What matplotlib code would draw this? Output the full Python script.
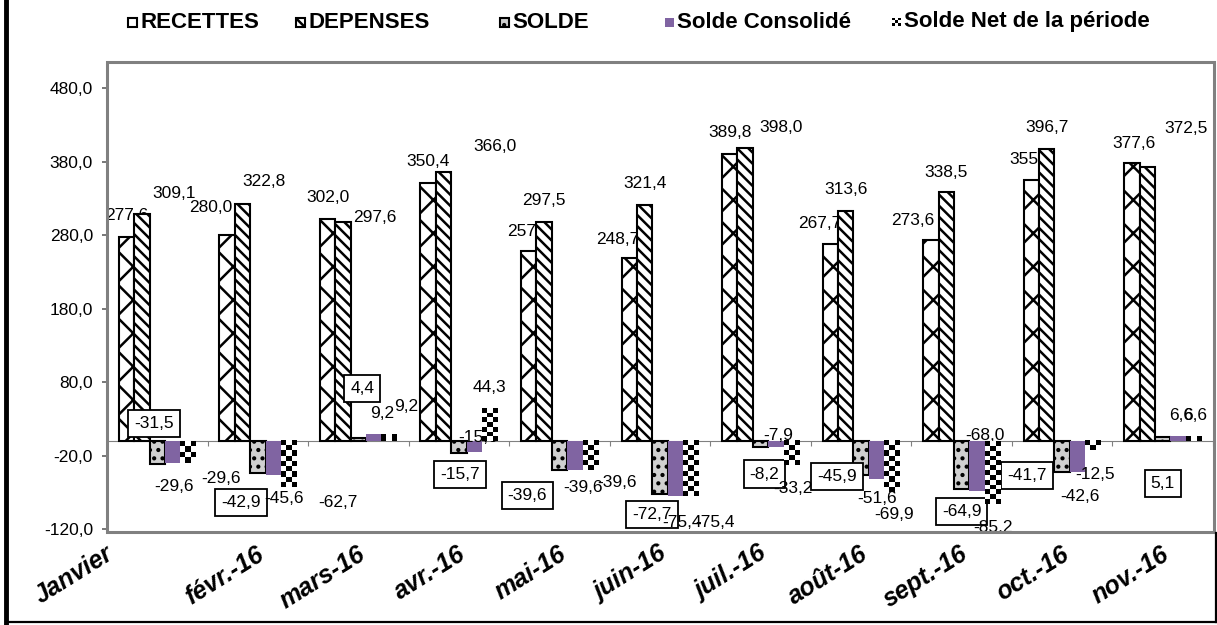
import numpy as np
import matplotlib
matplotlib.use('Agg')
import matplotlib.pyplot as plt
from matplotlib.patches import Rectangle
from matplotlib.lines import Line2D
from matplotlib.transforms import ScaledTranslation, blended_transform_factory

# --- data (millions) ---
months = ['Janvier', 'févr.-16', 'mars-16', 'avr.-16', 'mai-16', 'juin-16',
          'juil.-16', 'août-16', 'sept.-16', 'oct.-16', 'nov.-16']
recettes = [277.6, 280.0, 302.0, 350.4, 257.9, 248.7, 389.8, 267.7, 273.6, 355.0, 377.6]
depenses = [309.1, 322.8, 297.6, 366.0, 297.5, 321.4, 398.0, 313.6, 338.5, 396.7, 372.5]
solde = [-31.5, -42.9, 4.4, -15.7, -39.6, -72.7, -8.2, -45.9, -64.9, -41.7, 5.1]
solde_conso = [-29.6, -45.6, 9.2, -15.6, -39.6, -75.4, -7.9, -51.6, -68.0, -42.6, 6.6]
solde_net = [-29.6, -62.7, 9.2, 44.3, -39.6, -75.4, -33.2, -69.9, -85.2, -12.5, 6.6]
series_names = ['RECETTES', 'DEPENSES', 'SOLDE', 'Solde Consolidé', 'Solde Net de la période']
y_ticks = [-120, -20, 80, 180, 280, 380, 480]

# label offsets from the bar end, in pixels (dx right, dy down) - copied from the excel layout
off_rec = [(0, -21), (-16, -28), (0, -22), (0, -22), (0, -20), (-11, -19), (0, -22), (-11, -21), (-18, -19), (0, -21), (2, -20)]
off_dep = [(32, -20), (22, -22), (32, -5), (51, -25), (0, -22), (0, -21), (36, -21), (0, -21), (0, -20), (0, -22), (39, -39)]
off_sol = [(-3, -41), (-17, 30), (4, -49), (1, 22), (-32, 25), (-8, 20), (4, 27), (-24, 2), (0, 23), (-35, 4), (0, 46)]
off_con = [(1, 24), (11, 24), (8, -21), (4, -15), (8, 17), (7, 26), (2, -11), (1, 20), (8, -55), (2, 24), (3, -21)]
off_net = [(33, 16), (49, 15), (17, -28), (0, -21), (27, 12), (24, 26), (2, 23), (2, 22), (1, 24), (2, 24), (2, -21)]
cat_shift = [-50, 0, 0, 0, 0, 0, 0, 0, 0, 0, 0]

W, H, DPI = 1217, 625, 100
PT = 72.0 / DPI
plt.rcParams['font.family'] = ['Liberation Sans', 'DejaVu Sans']
plt.rcParams['hatch.linewidth'] = 1.8

def fx(px):
    return px / W

def fy(py):
    return 1 - py / H

def fmt(v):
    return f'{v:.1f}'.replace('.', ',')

fig = plt.figure(figsize=(W / DPI, H / DPI), dpi=DPI)
fig.patch.set_facecolor('white')

ax_left, ax_right, ax_top, ax_bot = 107, 1213, 88.2, 529.2
ax = fig.add_axes([fx(ax_left), fy(ax_bot), fx(ax_right) - fx(ax_left), fy(ax_top) - fy(ax_bot)])
n = len(months)
x = np.arange(n)
bw = 0.153
px_x = (ax_right - ax_left) / n
px_y = (ax_bot - ax_top) / 600.0

# plain bars
styles = [
    dict(facecolor='white', hatch='x', edgecolor='black', linewidth=1.5),
    dict(facecolor='white', hatch='\\\\\\', edgecolor='black', linewidth=1.5),
    dict(facecolor='#d0d0d0', hatch='..', edgecolor='black', linewidth=1.5),
    dict(facecolor='#8064A2', edgecolor='none', linewidth=0),
]
all_vals = [recettes, depenses, solde, solde_conso, solde_net]
all_offs = [off_rec, off_dep, off_sol, off_con, off_net]

for k in range(4):
    ax.bar(x + (k - 2) * bw, all_vals[k], width=bw, zorder=2 + 2 * k, **styles[k])

# checkerboard bars for the net balance
cell = 5.0
for i, v in enumerate(solde_net):
    x0 = i + 2 * bw - bw / 2
    ncol = max(1, int(round(bw * px_x / cell)))
    nrow = max(1, int(round(abs(v) * px_y / cell)))
    img = np.indices((nrow, ncol)).sum(axis=0) % 2
    ax.imshow(img, cmap='gray', vmin=0, vmax=1, extent=(x0, x0 + bw, 0, v), origin='lower',
              aspect='auto', interpolation='nearest', zorder=10)

ax.set_aspect('auto')
ax.set_xlim(-0.5, n - 0.5)
ax.set_ylim(-120, 480)

# data labels
box = dict(boxstyle='square,pad=0.35', facecolor='white', edgecolor='black', linewidth=1.3)
for k in range(5):
    for i, v in enumerate(all_vals[k]):
        dx, dy = all_offs[k][i]
        ax.annotate(fmt(v), (i + (k - 2) * bw, v), xytext=(dx * PT, -dy * PT), textcoords='offset points',
                    ha='center', va='center', fontsize=12.5, zorder=3 + 2 * k,
                    bbox=box if k == 2 else None, annotation_clip=False)

# axes styling
for s in ['top', 'right', 'left']:
    ax.spines[s].set_visible(False)
ax.spines['bottom'].set_position(('data', 0))
ax.spines['bottom'].set_color('#808080')
ax.spines['bottom'].set_zorder(1)
ax.set_xticks(np.arange(-0.5, n, 1))
ax.tick_params(axis='x', direction='out', length=5 * PT, color='#808080', labelbottom=False)
ax.set_yticks(y_ticks)
ax.set_yticklabels([fmt(t) for t in y_ticks], fontsize=12.5)
ax.tick_params(axis='y', direction='out', length=5 * PT, width=1.2, color='#606060', pad=9 * PT)
ax.patch.set_alpha(0)

# category labels
trans = blended_transform_factory(ax.transData, fig.transFigure)
for i, m in enumerate(months):
    tr = trans + ScaledTranslation(cat_shift[i] / DPI, 0, fig.dpi_scale_trans)
    ax.text(i - 2 / px_x, fy(542), m, transform=tr, rotation=32, rotation_mode='anchor',
            ha='right', va='top', fontsize=18, fontweight='bold', fontstyle='italic', clip_on=False)

# plot area frame and outer border
fig.patches.append(Rectangle((fx(107), fy(532)), fx(1214) - fx(107), fy(62) - fy(532),
                             transform=fig.transFigure, fill=False, edgecolor='#808080', linewidth=2.2))
fig.lines.append(Line2D([fx(6), fx(6)], [0, 1], transform=fig.transFigure, color='black', linewidth=3.5))
fig.lines.append(Line2D([fx(6), fx(1216)], [fy(622), fy(622)], transform=fig.transFigure, color='black', linewidth=1.6))
fig.lines.append(Line2D([fx(1216), fx(1216)], [fy(622), fy(533)], transform=fig.transFigure, color='black', linewidth=1.6))

# legend (drawn by hand to match the excel spacing)
leg_x = [128, 296, 500, 665, 892]
leg_y = 22
icon = 9
for k, name in enumerate(series_names):
    lx = leg_x[k]
    if k < 4:
        st = styles[k]
        fig.patches.append(Rectangle((fx(lx), fy(leg_y + icon / 2)), icon / W, icon / H, transform=fig.transFigure,
                                     facecolor=st['facecolor'], hatch=st.get('hatch'),
                                     edgecolor=st['edgecolor'] if k < 3 else 'none', linewidth=1.5))
    else:
        iax = fig.add_axes([fx(lx), fy(leg_y + icon / 2), icon / W, icon / H])
        iax.imshow(np.indices((3, 3)).sum(axis=0) % 2, cmap='gray', vmin=0, vmax=1, interpolation='nearest')
        iax.axis('off')
    fig.text(fx(lx + icon + 3), fy(leg_y), name, ha='left', va='center', fontsize=16, fontweight='bold')

fig.savefig('out.png', dpi=DPI)
